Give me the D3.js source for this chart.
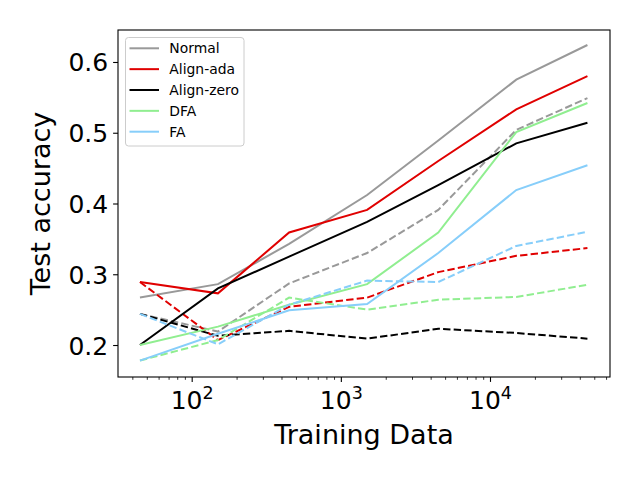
<!DOCTYPE html>
<html>
<head>
<meta charset="utf-8">
<script src="https://cdn.jsdelivr.net/npm/d3@7"></script>
<style>
  body { margin: 0; background: #fff; }
  text { font-family: "DejaVu Sans", sans-serif; }
</style>
</head>
<body>
<div id="chart"></div>
<script>
// training set sizes
var sizes = [45, 150, 450, 1500, 4500, 15000, 45000];
var methods = ["Normal", "Align-ada", "Align-zero", "DFA", "FA"];
var colors = ["#999999", "#e00000", "#000000", "#90ee90", "#87cefa"];

// solid lines
var normalSolid = [0.267, 0.286, 0.343, 0.412, 0.489, 0.575, 0.624];
var adaSolid    = [0.289, 0.273, 0.359, 0.391, 0.460, 0.533, 0.580];
var zeroSolid   = [0.200, 0.280, 0.325, 0.374, 0.426, 0.485, 0.514];
var dfaSolid    = [0.200, 0.226, 0.257, 0.286, 0.359, 0.501, 0.542];
var faSolid     = [0.178, 0.216, 0.249, 0.258, 0.330, 0.419, 0.454];

// dashed lines
var normalDash = [0.244, 0.219, 0.287, 0.330, 0.391, 0.504, 0.549];
var adaDash    = [0.289, 0.207, 0.254, 0.267, 0.303, 0.326, 0.337];
var zeroDash   = [0.244, 0.213, 0.220, 0.209, 0.223, 0.217, 0.209];
var dfaDash    = [0.178, 0.207, 0.267, 0.250, 0.264, 0.268, 0.285];
var faDash     = [0.244, 0.201, 0.257, 0.291, 0.289, 0.340, 0.360];

var yTicks = [0.2, 0.3, 0.4, 0.5, 0.6];
var xMajor = [100, 1000, 10000];

function init() {
    var w = 640, h = 480;
    var left = 118, right = 610, top = 30, bottom = 377;

    var svg = d3.select("#chart").append("svg")
        .attr("width", w).attr("height", h);

    var x = d3.scaleLog().domain([32.06, 63760]).range([left, right]);
    var y = d3.scaleLinear().domain([0.1548, 0.6452]).range([bottom, top]);

    var solid = [normalSolid, adaSolid, zeroSolid, dfaSolid, faSolid];
    var dashed = [normalDash, adaDash, zeroDash, dfaDash, faDash];

    var line = d3.line()
        .x(function(d, i) { return x(sizes[i]); })
        .y(function(d) { return y(d); });

    var plot = svg.append("g");
    methods.forEach(function(m, k) {
        plot.append("path")
            .attr("d", line(solid[k]))
            .attr("fill", "none")
            .attr("stroke", colors[k])
            .attr("stroke-width", 2);
        plot.append("path")
            .attr("d", line(dashed[k]))
            .attr("fill", "none")
            .attr("stroke", colors[k])
            .attr("stroke-width", 2)
            .attr("stroke-dasharray", "7.4,3.2");
    });

    // minor x ticks
    var minor = [];
    [10, 100, 1000, 10000].forEach(function(b) {
        for (var j = 2; j <= 9; j++) {
            var v = b * j;
            if (v > 32.06 && v < 63760) minor.push(v);
        }
    });
    svg.append("g")
        .attr("transform", "translate(0," + bottom + ")")
        .call(d3.axisBottom(x).tickValues(minor).tickSize(2.8).tickFormat(""))
        .call(function(g) { g.select(".domain").remove(); })
        .selectAll("line").attr("stroke-width", 0.8);

    var xAxis = svg.append("g")
        .attr("transform", "translate(0," + bottom + ")")
        .call(d3.axisBottom(x).tickValues(xMajor).tickSize(4.9).tickFormat(""));
    xAxis.select(".domain").remove();
    xAxis.selectAll("line").attr("stroke-width", 1.1);
    xAxis.selectAll(".tick").each(function(d) {
        var t = d3.select(this).append("text")
            .attr("y", 32)
            .attr("fill", "#000")
            .attr("text-anchor", "middle")
            .style("font-size", "25px");
        t.append("tspan").text("10");
        t.append("tspan")
            .attr("dy", -10)
            .style("font-size", "17.5px")
            .text(Math.round(Math.log10(d)));
    });

    var yAxis = svg.append("g")
        .attr("transform", "translate(" + left + ",0)")
        .call(d3.axisLeft(y).tickValues(yTicks).tickSize(4.9).tickPadding(4.9)
            .tickFormat(d3.format(".1f")));
    yAxis.select(".domain").remove();
    yAxis.selectAll("line").attr("stroke-width", 1.1);
    yAxis.selectAll("text")
        .style("font-size", "25px")
        .attr("fill", "#000")
        .attr("dy", "0.36em");

    // frame
    svg.append("rect")
        .attr("x", left).attr("y", top)
        .attr("width", right - left).attr("height", bottom - top)
        .attr("fill", "none").attr("stroke", "#000").attr("stroke-width", 1.1);

    svg.append("text")
        .attr("x", (left + right) / 2).attr("y", 444)
        .attr("text-anchor", "middle")
        .style("font-size", "27px")
        .text("Training Data");

    svg.append("text")
        .attr("transform", "translate(50," + (top + bottom) / 2 + ") rotate(-90)")
        .attr("text-anchor", "middle")
        .style("font-size", "27px")
        .text("Test accuracy");

    // legend
    var lg = svg.append("g");
    lg.append("rect")
        .attr("x", 125.5).attr("y", 37.5)
        .attr("width", 118.5).attr("height", 108.5)
        .attr("rx", 3)
        .attr("fill", "#fff").attr("fill-opacity", 0.8)
        .attr("stroke", "#cccccc").attr("stroke-width", 1);
    methods.forEach(function(m, k) {
        var cy = 48.3 + k * 20.85;
        lg.append("line")
            .attr("x1", 129.5).attr("x2", 159)
            .attr("y1", cy).attr("y2", cy)
            .attr("stroke", colors[k]).attr("stroke-width", 2);
        lg.append("text")
            .attr("x", 169.3).attr("y", cy + 5)
            .style("font-size", "13.9px")
            .text(m);
    });
}
window.onload = init;
</script>
</body>
</html>
